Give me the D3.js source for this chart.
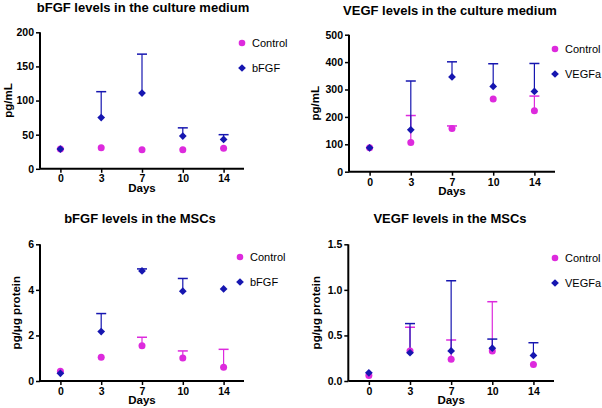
<!DOCTYPE html>
<html><head><meta charset="utf-8">
<script src="https://cdn.jsdelivr.net/npm/d3@7"></script>
<style>body{margin:0;background:#fff}svg{display:block;font-family:"Liberation Sans",Arial,sans-serif}</style>
</head><body>
<svg id="c" width="602" height="408"></svg>
<script>
const days = ["0","3","7","10","14"];
// Panel A: bFGF in culture medium (pg/mL)
const aControl = [29, 31, 28, 28, 30];
const aControlErr = [null, null, null, null, null];
const aTreat = [29, 75, 111, 48, 43];
const aTreatErr = [null, 113, 168, 60, 50];
// Panel B: VEGF in culture medium (pg/mL)
const bControl = [87, 107, 158, 265, 222];
const bControlErr = [null, 205, 167, null, 276];
const bTreat = [87, 153, 346, 311, 293];
const bTreatErr = [null, 331, 401, 394, 395];
// Panel C: bFGF in MSCs (pg/ug protein)
const cControl = [0.43, 1.04, 1.55, 1.01, 0.6];
const cControlErr = [null, null, 1.92, 1.32, 1.39];
const cTreat = [0.34, 2.17, 4.83, 3.94, 4.04];
const cTreatErr = [null, 2.96, 4.92, 4.5, null];
// Panel D: VEGF in MSCs (pg/ug protein)
const dControl = [0.06, 0.33, 0.24, 0.33, 0.18];
const dControlErr = [null, 0.59, 0.45, 0.87, null];
const dTreat = [0.09, 0.31, 0.33, 0.36, 0.28];
const dTreatErr = [null, 0.63, 1.10, 0.46, 0.42];

const yTicksA = [0, 50, 100, 150, 200];
const yTicksB = [0, 100, 200, 300, 400, 500];
const yTicksC = [0, 2, 4, 6];
const yTicksD = [0, 0.5, 1.0, 1.5];

const CCOL = "#dd2add", TCOL = "#1616b0";
const svg = d3.select("#c");

const panels = [
  {title:"bFGF levels in the culture medium", ylab:"pg/mL", ctl:aControl, ctlE:aControlErr, trt:aTreat, trtE:aTreatErr, tname:"bFGF", ticks:yTicksA, fmt:d3.format("d"),
   x0:40, x1:244, yTop:32.3, yBot:168.8, titleX:143, titleY:12, ylabX:12, legX:242, legY:43, pad:2, daysY:192},
  {title:"VEGF levels in the culture medium", ylab:"pg/mL", ctl:bControl, ctlE:bControlErr, trt:bTreat, trtE:bTreatErr, tname:"VEGFa", ticks:yTicksB, fmt:d3.format("d"),
   x0:349, x1:555, yTop:34.7, yBot:171.7, titleX:450, titleY:15, ylabX:319, legX:555, legY:49, pad:3, daysY:195},
  {title:"bFGF levels in the MSCs", ylab:"pg/\u03bcg protein", ctl:cControl, ctlE:cControlErr, trt:cTreat, trtE:cTreatErr, tname:"bFGF", ticks:yTicksC, fmt:d3.format("d"),
   x0:40, x1:244, yTop:244.3, yBot:381, titleX:140, titleY:223, ylabX:20, legX:240, legY:257, pad:3, daysY:404},
  {title:"VEGF levels in the MSCs", ylab:"pg/\u03bcg protein", ctl:dControl, ctlE:dControlErr, trt:dTreat, trtE:dTreatErr, tname:"VEGFa", ticks:yTicksD, fmt:d3.format(".1f"),
   x0:348.3, x1:554, yTop:244.3, yBot:381, titleX:450, titleY:223, ylabX:320, legX:555, legY:258, pad:3, daysY:404}
];

const diamond = d3.symbol().type(d3.symbolSquare).size(30)();

panels.forEach(p => {
  const g = svg.append("g");
  const x = d3.scalePoint().domain(days).range([p.x0, p.x1]).padding(0.5);
  const y = d3.scaleLinear().domain([0, p.ticks[p.ticks.length-1]]).range([p.yBot, p.yTop]);

  // axes
  const ya = g.append("g").attr("transform", `translate(${p.x0},0)`)
    .call(d3.axisLeft(y).tickValues(p.ticks).tickFormat(p.fmt).tickSize(4).tickPadding(2));
  const xa = g.append("g").attr("transform", `translate(0,${p.yBot})`)
    .call(d3.axisBottom(x).tickSize(4).tickPadding(p.pad));
  [ya, xa].forEach(a => {
    a.select(".domain").attr("stroke", "#000").attr("stroke-width", 2);
    a.selectAll(".tick line").attr("stroke", "#000").attr("stroke-width", 1.5);
    a.selectAll("text").attr("fill", "#000").attr("font-size", 10.5).attr("font-weight", "bold")
      .attr("font-family", "'Liberation Sans',Arial,sans-serif");
  });
  ya.select(".domain").attr("d", `M0,${p.yTop}V${p.yBot}`);
  xa.select(".domain").attr("d", `M${p.x0},0H${p.x1}`);

  // titles
  g.append("text").attr("x", p.titleX).attr("y", p.titleY).attr("text-anchor", "middle")
    .attr("font-size", 13).attr("font-weight", "bold").text(p.title);
  g.append("text").attr("x", (p.x0 + p.x1) / 2).attr("y", p.daysY).attr("text-anchor", "middle")
    .attr("font-size", 11.5).attr("font-weight", "bold").text("Days");
  g.append("text").attr("transform", `translate(${p.ylabX},${(p.yTop + p.yBot) / 2}) rotate(-90)`)
    .attr("text-anchor", "middle").attr("font-size", 11.5).attr("font-weight", "bold").text(p.ylab);

  // error bars (upper only)
  const drawErr = (vals, errs, col) => {
    days.forEach((d, i) => {
      if (errs[i] == null) return;
      const cx = x(d);
      g.append("line").attr("x1", cx).attr("x2", cx).attr("y1", y(vals[i])).attr("y2", y(errs[i]))
        .attr("stroke", col).attr("stroke-width", 1.2);
      g.append("line").attr("x1", cx - 5).attr("x2", cx + 5).attr("y1", y(errs[i])).attr("y2", y(errs[i]))
        .attr("stroke", col).attr("stroke-width", 1.5);
    });
  };
  drawErr(p.ctl, p.ctlE, CCOL);
  drawErr(p.trt, p.trtE, TCOL);

  g.selectAll(".cpt").data(p.ctl).enter().append("circle")
    .attr("cx", (v, i) => x(days[i])).attr("cy", v => y(v)).attr("r", 3.5).attr("fill", CCOL);
  g.selectAll(".tpt").data(p.trt).enter().append("path")
    .attr("transform", (v, i) => `translate(${x(days[i])},${y(v)}) rotate(45)`)
    .attr("d", diamond).attr("fill", TCOL);

  // legend
  g.append("circle").attr("cx", p.legX).attr("cy", p.legY).attr("r", 3.3).attr("fill", CCOL);
  g.append("text").attr("x", p.legX + 10).attr("y", p.legY + 4).attr("font-size", 11).text("Control");
  g.append("path").attr("transform", `translate(${p.legX},${p.legY + 25}) rotate(45)`)
    .attr("d", diamond).attr("fill", TCOL);
  g.append("text").attr("x", p.legX + 10).attr("y", p.legY + 29).attr("font-size", 11).text(p.tname);
});
</script>
</body></html>
